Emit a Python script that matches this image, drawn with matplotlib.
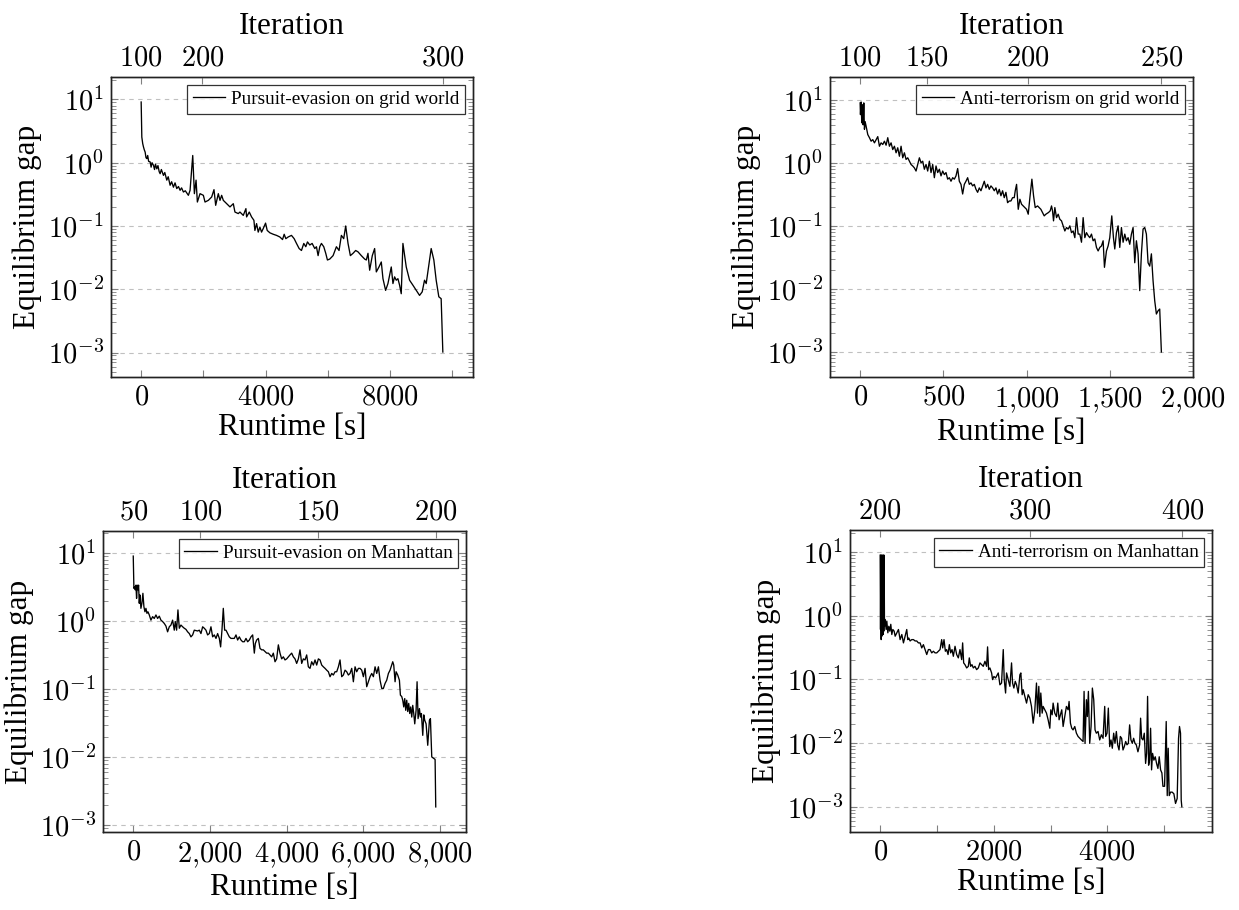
import matplotlib
matplotlib.use("Agg")
import matplotlib.pyplot as plt
import numpy as np
from matplotlib.ticker import LogLocator, NullFormatter

plt.rcParams['mathtext.fontset'] = 'cm'
plt.rcParams['font.family'] = ['Liberation Serif', 'DejaVu Serif']

# ---------------- data ----------------
# Pursuit-evasion on grid world
pe_grid_runtime = [0, 10, 21, 50, 75, 100, 128, 155, 182, 210, 240, 289, 320, 350, 396, 430, 460, 503, 540, 580,
                   610, 650, 717, 760, 824, 870, 931, 980, 1038, 1090, 1145, 1200, 1252, 1300, 1359, 1420, 1519,
                   1573, 1659, 1712, 1766, 1808, 1894, 2001, 2054, 2161, 2268, 2343, 2397, 2482, 2536, 2589, 2643,
                   2750, 2857, 2964, 3017, 3124, 3178, 3285, 3370, 3392, 3478, 3552, 3627, 3659, 3713, 3766, 3820,
                   3873, 3927, 4002, 4055, 4141, 4248, 4355, 4462, 4548, 4601, 4654, 4729, 4836, 4922, 4997, 5082,
                   5157, 5232, 5296, 5350, 5425, 5500, 5585, 5639, 5692, 5746, 5799, 5874, 5938, 5992, 6067, 6174,
                   6281, 6366, 6441, 6516, 6580, 6655, 6730, 6816, 6901, 6976, 7083, 7190, 7244, 7297, 7351, 7436,
                   7511, 7565, 7650, 7725, 7779, 7864, 7939, 7993, 8046, 8100, 8153, 8207, 8260, 8314, 8367, 8421,
                   8528, 8635, 8742, 8849, 8956, 9041, 9116, 9170, 9223, 9330, 9416, 9491, 9576, 9651, 9705]
pe_grid_gap = [9.1, 4.7, 2.54, 2.0, 1.77, 1.6, 1.47, 1.2, 1.16, 1.3, 1.05, 1.03, 0.85, 1.0, 0.91, 0.78, 0.95, 0.80,
               0.9, 0.72, 0.67, 0.78, 0.63, 0.7, 0.53, 0.6, 0.44, 0.5, 0.41, 0.48, 0.39, 0.42, 0.366, 0.40, 0.344,
               0.36, 0.305, 0.366, 1.3, 0.324, 0.53, 0.239, 0.324, 0.305, 0.239, 0.254, 0.287, 0.375, 0.212, 0.324,
               0.254, 0.305, 0.254, 0.225, 0.2, 0.225, 0.166, 0.157, 0.166, 0.147, 0.188, 0.139, 0.166, 0.139,
               0.123, 0.085, 0.109, 0.08, 0.096, 0.08, 0.091, 0.111, 0.085, 0.078, 0.074, 0.071, 0.067, 0.061,
               0.074, 0.063, 0.067, 0.071, 0.063, 0.053, 0.044, 0.041, 0.053, 0.047, 0.056, 0.05, 0.053, 0.044,
               0.047, 0.034, 0.047, 0.053, 0.047, 0.037, 0.029, 0.030, 0.034, 0.047, 0.041, 0.071, 0.063, 0.1,
               0.053, 0.034, 0.037, 0.041, 0.039, 0.034, 0.030, 0.029, 0.037, 0.020, 0.034, 0.044, 0.0188, 0.0225,
               0.027, 0.0147, 0.0096, 0.0123, 0.0166, 0.0225, 0.0123, 0.0157, 0.0139, 0.0147, 0.0116, 0.0085,
               0.053, 0.0225, 0.0139, 0.0116, 0.0096, 0.0080, 0.0091, 0.0139, 0.0123, 0.0188, 0.044, 0.029,
               0.0139, 0.0076, 0.0071, 0.00102]
pe_grid_iter_ticks = [100, 200, 300]
pe_grid_iter_runtime = [0, 1970, 9705]

# Anti-terrorism on grid world
at_grid_runtime = [0, 2, 6, 10, 14, 18, 22, 26, 30, 36, 46, 56, 66, 76, 86, 96, 106, 116, 126, 136, 146, 156, 166,
                   176, 186, 196, 206, 216, 226, 236, 246, 256, 266, 276, 286, 296, 306, 316, 326, 336, 346, 356,
                   366, 376, 386, 396, 406, 416, 426, 436, 446, 456, 466, 476, 486, 496, 506, 516, 526, 536, 546,
                   556, 566, 576, 586, 596, 606, 616, 626, 636, 646, 656, 666, 676, 686, 696, 706, 716, 726, 736,
                   746, 756, 766, 776, 786, 796, 806, 816, 826, 836, 846, 856, 866, 876, 886, 896, 906, 916, 926,
                   932, 940, 950, 960, 970, 980, 990, 1000, 1010, 1020, 1032, 1042, 1052, 1066, 1076, 1086, 1096,
                   1106, 1116, 1132, 1142, 1150, 1156, 1162, 1170, 1180, 1190, 1200, 1210, 1220, 1230, 1240, 1250,
                   1260, 1270, 1280, 1290, 1300, 1310, 1320, 1330, 1340, 1350, 1360, 1370, 1380, 1390, 1400, 1410,
                   1420, 1430, 1440, 1450, 1460, 1468, 1480, 1490, 1500, 1512, 1522, 1530, 1540, 1550, 1560, 1570,
                   1580, 1590, 1600, 1610, 1620, 1630, 1640, 1650, 1660, 1670, 1680, 1690, 1700, 1710, 1720, 1730,
                   1740, 1750, 1760, 1770, 1780, 1790, 1800, 1810]
at_grid_gap = [8.9, 5.8, 9.2, 4.3, 8.3, 4.0, 8.9, 3.4, 4.5, 3.8, 2.8, 2.5, 2.2, 2.33, 2.07, 2.33, 2.6, 1.83, 2.07,
               1.95, 2.2, 1.9, 2.5, 1.83, 2.07, 1.62, 1.83, 1.44, 1.73, 1.27, 1.83, 1.2, 1.44, 1.13, 1.2, 1.06,
               0.94, 0.89, 0.83, 0.74, 0.94, 1.2, 1.0, 1.06, 0.79, 0.94, 0.74, 1.06, 0.70, 0.94, 0.58, 0.89, 0.70,
               0.79, 0.62, 0.74, 0.65, 0.70, 0.55, 0.58, 0.51, 0.58, 0.55, 0.62, 0.81, 0.51, 0.455, 0.32, 0.455,
               0.51, 0.58, 0.455, 0.48, 0.43, 0.455, 0.38, 0.34, 0.40, 0.36, 0.43, 0.51, 0.40, 0.455, 0.38, 0.43,
               0.40, 0.36, 0.40, 0.32, 0.38, 0.30, 0.36, 0.28, 0.34, 0.233, 0.248, 0.248, 0.28, 0.28, 0.36, 0.455,
               0.183, 0.264, 0.22, 0.207, 0.195, 0.183, 0.153, 0.28, 0.55, 0.30, 0.195, 0.207, 0.195, 0.183,
               0.163, 0.144, 0.153, 0.163, 0.173, 0.207, 0.173, 0.12, 0.195, 0.135, 0.153, 0.127, 0.12, 0.1,
               0.083, 0.094, 0.089, 0.1, 0.078, 0.083, 0.065, 0.135, 0.074, 0.074, 0.055, 0.135, 0.065, 0.078,
               0.070, 0.065, 0.074, 0.058, 0.062, 0.0455, 0.040, 0.0455, 0.048, 0.058, 0.022, 0.040, 0.048, 0.065,
               0.144, 0.065, 0.043, 0.078, 0.1, 0.0455, 0.094, 0.055, 0.074, 0.058, 0.065, 0.051, 0.074, 0.094,
               0.026, 0.058, 0.036, 0.0094, 0.036, 0.089, 0.094, 0.074, 0.026, 0.023, 0.036, 0.0135, 0.0065,
               0.0040, 0.0045, 0.0048, 0.001]
at_grid_iter_ticks = [100, 150, 200, 250]
at_grid_iter_runtime = [0, 400, 1006, 1810]

# Pursuit-evasion on Manhattan
pe_man_runtime = [0, 9, 17, 35, 52, 70, 87, 104, 122, 139, 157, 174, 200, 226, 252, 278, 305, 331, 357, 383, 418,
                  461, 505, 548, 592, 635, 679, 722, 766, 809, 853, 896, 940, 983, 1027, 1070, 1096, 1131, 1166,
                  1201, 1244, 1288, 1331, 1375, 1418, 1462, 1505, 1549, 1592, 1636, 1679, 1723, 1766, 1810, 1853,
                  1897, 1940, 1984, 2027, 2071, 2114, 2158, 2201, 2245, 2279, 2314, 2349, 2384, 2419, 2462, 2506,
                  2549, 2593, 2636, 2680, 2723, 2767, 2810, 2854, 2897, 2941, 2984, 3028, 3071, 3115, 3158, 3184,
                  3219, 3263, 3306, 3350, 3393, 3437, 3480, 3524, 3567, 3611, 3654, 3698, 3741, 3785, 3828, 3872,
                  3915, 3959, 4002, 4046, 4089, 4133, 4176, 4220, 4263, 4307, 4350, 4394, 4437, 4481, 4524, 4568,
                  4611, 4655, 4698, 4742, 4785, 4829, 4872, 4916, 4959, 5003, 5046, 5090, 5133, 5177, 5220, 5264,
                  5307, 5351, 5394, 5438, 5481, 5525, 5568, 5612, 5655, 5699, 5742, 5786, 5829, 5873, 5916, 5960,
                  6003, 6047, 6090, 6134, 6177, 6221, 6264, 6308, 6351, 6395, 6438, 6482, 6525, 6569, 6612, 6656,
                  6699, 6743, 6769, 6795, 6830, 6856, 6899, 6943, 6969, 7004, 7030, 7056, 7082, 7108, 7134, 7160,
                  7186, 7212, 7238, 7265, 7291, 7317, 7343, 7378, 7404, 7430, 7465, 7491, 7517, 7552, 7578, 7604,
                  7639, 7682, 7726, 7752, 7787, 7839, 7874, 7891]
pe_man_gap = [9.1, 5.4, 3.05, 3.2, 2.9, 3.4, 2.17, 3.4, 2.9, 3.4, 1.84, 2.44, 1.55, 1.84, 2.58, 1.64, 1.38, 1.55,
              1.31, 1.38, 1.24, 1.04, 1.17, 1.10, 1.24, 1.10, 1.19, 1.04, 0.99, 0.93, 0.85, 0.70, 0.83, 0.88,
              1.04, 0.74, 0.99, 0.74, 1.47, 0.79, 0.88, 0.83, 0.79, 0.76, 0.70, 0.66, 0.59, 0.63, 0.74, 0.73, 0.72,
              0.74, 0.66, 0.83, 0.79, 0.74, 0.63, 0.66, 0.83, 0.59, 0.63, 0.56, 0.66, 0.56, 0.42, 0.74, 1.55, 0.74,
              0.74, 0.66, 0.59, 0.56, 0.56, 0.56, 0.63, 0.53, 0.59, 0.53, 0.50, 0.50, 0.56, 0.50, 0.53, 0.59, 0.63,
              0.34, 0.47, 0.53, 0.56, 0.40, 0.38, 0.38, 0.36, 0.34, 0.34, 0.32, 0.30, 0.34, 0.254, 0.28, 0.45,
              0.34, 0.28, 0.30, 0.27, 0.28, 0.30, 0.32, 0.34, 0.30, 0.28, 0.24, 0.28, 0.38, 0.24, 0.28, 0.27, 0.32,
              0.214, 0.203, 0.254, 0.227, 0.27, 0.227, 0.28, 0.27, 0.227, 0.214, 0.203, 0.191, 0.181, 0.153,
              0.171, 0.162, 0.181, 0.181, 0.214, 0.27, 0.153, 0.162, 0.191, 0.181, 0.162, 0.171, 0.203, 0.129,
              0.214, 0.181, 0.203, 0.203, 0.191, 0.153, 0.203, 0.109, 0.129, 0.153, 0.171, 0.153, 0.214, 0.171,
              0.214, 0.136, 0.103, 0.103, 0.122, 0.136, 0.171, 0.191, 0.227, 0.254, 0.227, 0.129, 0.181, 0.162,
              0.136, 0.082, 0.078, 0.069, 0.055, 0.073, 0.049, 0.069, 0.047, 0.062, 0.044, 0.055, 0.039, 0.058,
              0.044, 0.031, 0.049, 0.129, 0.037, 0.052, 0.039, 0.044, 0.021, 0.042, 0.035, 0.031, 0.015, 0.035,
              0.037, 0.0101, 0.0096, 0.0093, 0.00186]
pe_man_iter_ticks = [50, 100, 150, 200]
pe_man_iter_runtime = [0, 1750, 4810, 7900]

# Anti-terrorism on Manhattan
at_man_runtime = [0, 6, 12, 18, 23, 29, 35, 41, 47, 53, 59, 64, 70, 76, 88, 105, 117, 135, 152, 170, 187, 205, 223,
                  246, 264, 293, 322, 351, 381, 410, 439, 468, 486, 504, 527, 556, 586, 615, 644, 673, 703, 732,
                  761, 791, 820, 849, 878, 908, 937, 966, 996, 1025, 1054, 1083, 1101, 1124, 1148, 1171, 1195, 1218,
                  1241, 1265, 1288, 1318, 1347, 1376, 1405, 1435, 1452, 1470, 1493, 1523, 1552, 1569, 1593, 1616,
                  1640, 1669, 1698, 1728, 1757, 1786, 1815, 1845, 1874, 1891, 1909, 1932, 1962, 1979, 2003, 2032,
                  2061, 2079, 2108, 2137, 2167, 2184, 2208, 2225, 2255, 2284, 2313, 2331, 2354, 2378, 2401, 2430,
                  2460, 2477, 2500, 2518, 2547, 2577, 2606, 2635, 2664, 2694, 2723, 2752, 2770, 2793, 2811, 2828,
                  2852, 2869, 2899, 2928, 2957, 2987, 3004, 3028, 3045, 3074, 3104, 3127, 3150, 3174, 3197, 3221,
                  3250, 3279, 3309, 3326, 3350, 3373, 3396, 3426, 3455, 3484, 3514, 3543, 3572, 3590, 3607, 3631,
                  3648, 3666, 3689, 3713, 3736, 3760, 3783, 3806, 3836, 3865, 3894, 3924, 3953, 3970, 3994, 4017,
                  4041, 4064, 4087, 4111, 4134, 4158, 4181, 4205, 4228, 4251, 4275, 4298, 4322, 4345, 4369, 4392,
                  4415, 4439, 4462, 4486, 4509, 4538, 4568, 4585, 4603, 4626, 4650, 4673, 4691, 4708, 4726, 4743,
                  4761, 4778, 4796, 4819, 4843, 4866, 4890, 4913, 4937, 4960, 4978, 5007, 5036, 5054, 5071, 5089,
                  5112, 5141, 5171, 5200, 5229, 5253, 5270, 5288, 5300, 5311]
at_man_gap = [8.87, 0.605, 8.87, 0.42, 8.87, 0.475, 8.87, 0.537, 8.87, 0.505, 8.87, 0.57, 8.87, 0.68, 0.87, 0.605,
              0.82, 0.537, 0.68, 0.57, 0.73, 0.505, 0.605, 0.57, 0.475, 0.537, 0.605, 0.42, 0.505, 0.373, 0.475,
              0.605, 0.42, 0.445, 0.40, 0.42, 0.42, 0.40, 0.40, 0.373, 0.373, 0.311, 0.35, 0.293, 0.245, 0.293,
              0.293, 0.26, 0.276, 0.26, 0.26, 0.276, 0.293, 0.42, 0.311, 0.42, 0.276, 0.293, 0.245, 0.35, 0.26,
              0.293, 0.23, 0.33, 0.245, 0.217, 0.293, 0.204, 0.373, 0.181, 0.17, 0.151, 0.16, 0.217, 0.16, 0.17,
              0.151, 0.16, 0.142, 0.151, 0.181, 0.17, 0.16, 0.192, 0.16, 0.323, 0.142, 0.151, 0.126, 0.099, 0.111,
              0.105, 0.118, 0.126, 0.082, 0.0875, 0.293, 0.099, 0.061, 0.126, 0.099, 0.0776, 0.181, 0.0875, 0.073,
              0.093, 0.082, 0.061, 0.118, 0.126, 0.0574, 0.0687, 0.054, 0.0424, 0.0574, 0.0508, 0.0376, 0.0205,
              0.0333, 0.0875, 0.0295, 0.0776, 0.0261, 0.061, 0.0295, 0.0376, 0.0333, 0.0295, 0.0232, 0.0171,
              0.0333, 0.0278, 0.0424, 0.0295, 0.0261, 0.0424, 0.0232, 0.0278, 0.0333, 0.0182, 0.0261, 0.0376,
              0.0333, 0.045, 0.0205, 0.0171, 0.0161, 0.0182, 0.0143, 0.0127, 0.0119, 0.0112, 0.0106, 0.0647,
              0.0099, 0.0479, 0.0261, 0.0647, 0.0099, 0.0182, 0.073, 0.0479, 0.0161, 0.0143, 0.0152, 0.0112,
              0.0135, 0.0119, 0.0376, 0.0127, 0.0143, 0.0354, 0.0088, 0.0112, 0.0083, 0.0143, 0.0099, 0.0152,
              0.0094, 0.0078, 0.0127, 0.0119, 0.0078, 0.0088, 0.0106, 0.0094, 0.0099, 0.0193, 0.0112, 0.0099,
              0.0119, 0.0099, 0.0094, 0.0073, 0.0094, 0.0246, 0.0119, 0.0112, 0.0143, 0.0048, 0.0069, 0.054,
              0.0045, 0.0054, 0.0171, 0.0038, 0.0069, 0.0054, 0.0061, 0.0048, 0.0040, 0.0061, 0.0038, 0.0034,
              0.0021, 0.0021, 0.0218, 0.0015, 0.0083, 0.0015, 0.0017, 0.0017, 0.0016, 0.00113, 0.00135, 0.0119,
              0.0182, 0.0143, 0.00127, 0.001]
at_man_iter_ticks = [200, 300, 400]
at_man_iter_runtime = [0, 2635, 5320]

legend_labels = ["Pursuit-evasion on grid world", "Anti-terrorism on grid world",
                 "Pursuit-evasion on Manhattan", "Anti-terrorism on Manhattan"]

# ---------------- figure ----------------
fig = plt.figure(figsize=(12.39, 9.10), dpi=100)
W, H = 1239.0, 910.0


def rect(l, t, r, b):
    return [l / W, 1 - b / H, (r - l) / W, (b - t) / H]


panels = [
    dict(rect=rect(111, 77, 473, 377), x=pe_grid_runtime, y=pe_grid_gap, label=legend_labels[0],
         xticks=[0, 2000, 4000, 6000, 8000, 10000], xlabels=['$0$', '', '$4000$', '', '$8000$', ''],
         it=pe_grid_iter_ticks, itx=pe_grid_iter_runtime),
    dict(rect=rect(830, 77, 1193, 377), x=at_grid_runtime, y=at_grid_gap, label=legend_labels[1],
         xticks=[0, 500, 1000, 1500, 2000], xlabels=['$0$', '$500$', '$1{,}000$', '$1{,}500$', '$2{,}000$'],
         it=at_grid_iter_ticks, itx=at_grid_iter_runtime),
    dict(rect=rect(103, 531, 466, 832), x=pe_man_runtime, y=pe_man_gap, label=legend_labels[2],
         xticks=[0, 2000, 4000, 6000, 8000],
         xlabels=['$0$', '$2{,}000$', '$4{,}000$', '$6{,}000$', '$8{,}000$'],
         it=pe_man_iter_ticks, itx=pe_man_iter_runtime),
    dict(rect=rect(850, 530, 1212, 832), x=at_man_runtime, y=at_man_gap, label=legend_labels[3],
         xticks=[0, 1000, 2000, 3000, 4000, 5000], xlabels=['$0$', '', '$2000$', '', '$4000$', ''],
         it=at_man_iter_ticks, itx=at_man_iter_runtime),
]

tick_col = '#808080'
TICK_FS = 20.5
LABEL_FS = 22.5

for p in panels:
    ax = fig.add_axes(p['rect'])
    ax.plot(p['x'], p['y'], color='black', lw=0.95, label=p['label'])
    ax.set_yscale('log')
    ax.margins(x=0.1, y=0.1)
    ax.set_yticks([1e-3, 1e-2, 1e-1, 1e0, 1e1],
                  labels=['$10^{-3}$', '$10^{-2}$', '$10^{-1}$', '$10^{0}$', '$10^{1}$'])
    ax.yaxis.set_minor_locator(LogLocator(base=10, subs=np.arange(2, 10), numticks=20))
    ax.yaxis.set_minor_formatter(NullFormatter())
    ax.set_xticks(p['xticks'], labels=p['xlabels'])
    xl = ax.get_xlim()
    ax.set_xlim(xl)
    ax.yaxis.grid(True, which='major', linestyle=(0, (4, 4)), color='#c0c0c0', lw=0.8)
    ax.set_axisbelow(True)
    ax.tick_params(axis='x', which='both', direction='in', bottom=True, top=False, length=5,
                   color=tick_col, labelsize=TICK_FS, pad=6)
    ax.tick_params(axis='y', which='major', direction='in', left=True, right=True, length=5,
                   color=tick_col, labelsize=TICK_FS, pad=5)
    ax.tick_params(axis='y', which='minor', direction='in', left=True, right=True, length=3.5,
                   color=tick_col)
    for s in ax.spines.values():
        s.set_linewidth(1.0)
        s.set_color('#222222')
    ax.set_xlabel('Runtime [s]', fontsize=LABEL_FS, labelpad=2)
    ax.set_ylabel('Equilibrium gap', fontsize=LABEL_FS, labelpad=4)
    leg = ax.legend(loc='upper right', fontsize=13.8, frameon=True, fancybox=False,
                    handlelength=1.7, handletextpad=0.3, borderpad=0.3, borderaxespad=0.4)
    leg.get_frame().set_edgecolor('black')
    leg.get_frame().set_linewidth(0.9)

    ax2 = ax.twiny()
    ax2.set_xlim(xl)
    ax2.set_xticks(p['itx'], labels=['$%d$' % v for v in p['it']])
    ax2.tick_params(axis='x', direction='in', length=5, color=tick_col, labelsize=TICK_FS, pad=4)
    ax2.set_xlabel('Iteration', fontsize=LABEL_FS, labelpad=9)
    for s in ax2.spines.values():
        s.set_linewidth(1.0)
        s.set_color('#222222')

fig.savefig('out.png', dpi=100)
